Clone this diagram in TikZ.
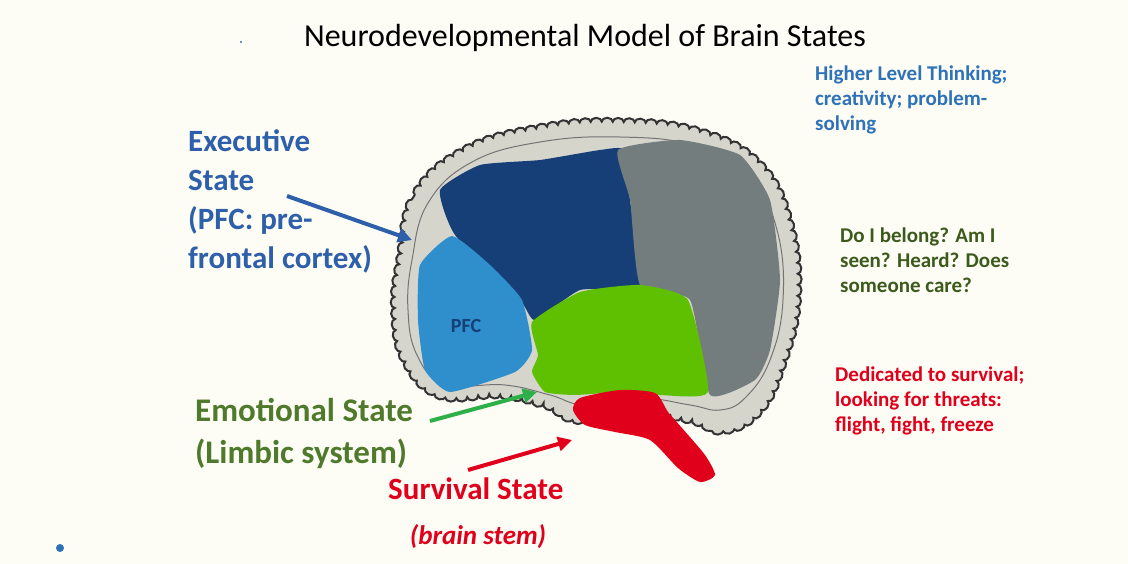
\documentclass[tikz,border=0pt]{standalone}
\usepackage{fontspec}
\setmainfont{Carlito}
\usetikzlibrary{arrows.meta,decorations.pathmorphing}
\definecolor{bg}{HTML}{FDFCF5}
\definecolor{exblue}{HTML}{2E5FAA}
\definecolor{hiblue}{HTML}{2E72B8}
\definecolor{dblue}{HTML}{153F76}
\definecolor{lblue}{HTML}{2F8FCC}
\definecolor{gry}{HTML}{737D7D}
\definecolor{lgreen}{HTML}{5EC000}
\definecolor{emgreen}{HTML}{4F7A2C}
\definecolor{dgreen}{HTML}{3B5A1C}
\definecolor{agreen}{HTML}{2DB04A}
\definecolor{rd}{HTML}{E0001B}
\definecolor{shell}{HTML}{D6D5CC}
\tikzset{
 lbl/.style={font=\fontsize{31}{39}\selectfont\bfseries, align=left, anchor=north west, inner sep=0},
 side/.style={font=\fontsize{21}{25}\selectfont\bfseries, align=left, anchor=north west, inner sep=0},
 arr/.style={line width=4pt, -{Triangle[length=14pt,width=14pt]}},
}
\begin{document}
\begin{tikzpicture}[x=1pt,y=-1pt]
\fill[bg] (0,0) rectangle (1128,564);
\useasboundingbox (0,0) rectangle (1128,564);
\node[font=\fontsize{32}{36}\selectfont] (title) at (585,38) {Neurodevelopmental Model of Brain States};
\fill[hiblue] (241,42) circle (1.2);
\fill[hiblue] (60,548) circle (4);
% brain shell
\draw[fill=shell, draw=black!80, line width=2pt, decorate, decoration={bumps, segment length=22pt, amplitude=4pt}] plot[smooth cycle, tension=0.7] coordinates {
 (400,260) (415,195) (465,150) (540,128) (620,122) (700,132) (760,165) (790,225) (797,300) (782,365) (760,410) (725,430) (690,420) (640,412) (580,420) (545,405) (500,395) (440,395) (405,360) (395,310)};
\draw[black!55, line width=1pt] plot[smooth cycle, tension=0.7] coordinates {
 (412,260) (428,203) (472,162) (540,142) (620,137) (695,146) (750,178) (777,230) (783,300) (770,360) (745,398) (720,410) (690,405) (640,398) (585,405) (550,395) (505,385) (445,384) (417,355) (408,310)};
% regions
\fill[dblue] plot[smooth cycle, tension=0.3] coordinates {
 (440,190) (480,165) (540,160) (600,150) (625,150) (630,200) (640,285) (580,290) (535,320) (520,300) (455,235)};
\fill[gry] plot[smooth cycle, tension=0.3] coordinates {
 (618,150) (680,140) (740,155) (770,200) (780,280) (770,350) (755,380) (710,395) (690,300) (640,285) (630,200)};
\fill[lblue] plot[smooth cycle, tension=0.3] coordinates {
 (420,265) (452,236) (490,265) (522,300) (532,350) (515,372) (450,392) (425,370) (418,320)};
\fill[lgreen] plot[smooth cycle, tension=0.3] coordinates {
 (532,322) (580,292) (640,285) (688,300) (708,392) (660,395) (620,392) (575,395) (545,392) (532,372) (538,355)};
\fill[rd] plot[smooth cycle, tension=0.4] coordinates {
 (580,398) (620,390) (655,393) (668,412) (682,428) (705,455) (715,475) (700,482) (678,468) (650,440) (615,432) (585,425) (573,410)};
\node[font=\fontsize{20}{24}\selectfont\bfseries, text=dblue] (pfc) at (466,326) {PFC};
% labels
\node[lbl, text=exblue] (exec) at (188,130) {Executive\\State\\(PFC: pre-\\frontal cortex)};
\node[lbl, text=emgreen, font=\fontsize{33}{42}\selectfont\bfseries] (emo) at (195,398) {Emotional State\\(Limbic system)};
\node[lbl, text=rd, font=\fontsize{31}{36}\selectfont\bfseries] (surv) at (388,478) {Survival State};
\node[font=\fontsize{27}{30}\selectfont\bfseries\itshape, text=rd] (stem) at (478,537) {(brain stem)};
\node[side, text=hiblue] (hi) at (815,66) {Higher Level Thinking;\\creativity; problem-\\solving};
\node[side, text=dgreen] (bel) at (840,228) {Do I belong? Am I\\seen? Heard? Does\\someone care?};
\node[side, text=rd] (ded) at (835,367) {Dedicated to survival;\\looking for threats:\\flight, fight, freeze};
% arrows
\coordinate (ea) at (287,196); \coordinate (eb) at (412,240);
\coordinate (ga) at (430,421); \coordinate (gb) at (537,392);
\coordinate (ra) at (468,470); \coordinate (rb) at (572,440);
\draw[arr, exblue] (ea) -- (eb);
\draw[arr, agreen] (ga) -- (gb);
\draw[arr, rd] (ra) -- (rb);
\end{tikzpicture}
\end{document}
